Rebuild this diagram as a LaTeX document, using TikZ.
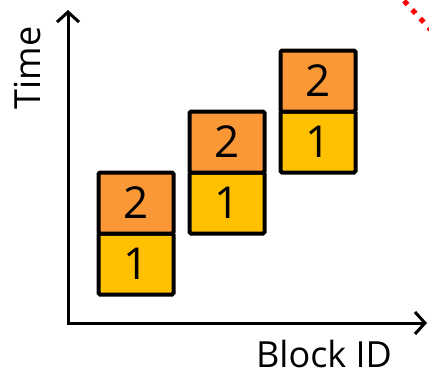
\documentclass[tikz,border=0pt]{standalone}
\usepackage{fontspec}
\setmainfont{Open Sans}
\usetikzlibrary{arrows.meta,positioning}
\definecolor{blkorange}{RGB}{250,152,56}
\definecolor{blkyellow}{RGB}{255,192,0}
\tikzset{
    half/.style={rectangle, draw=black, line width=4pt, rounded corners=1.5pt,
        minimum width=75pt, minimum height=61pt, inner sep=0pt, outer sep=0pt,
        font=\fontsize{44}{44}\selectfont},
    first/.style={half, fill=blkyellow},
    second/.style={half, fill=blkorange},
    axis/.style={line width=3pt, line join=miter,
        {Straight Barb[length=10pt,width=22pt]}-{Straight Barb[length=10pt,width=22pt]}},
    axislabel/.style={font=\fontsize{36}{36}\selectfont},
}
\begin{document}
\begin{tikzpicture}[x=1pt,y=-1pt]
    \useasboundingbox (0,0) rectangle (429,375);
    \begin{scope}
        \clip (0,0) rectangle (429,375);
        % dotted link leaving the frame
        \draw[red, line width=5pt, dash pattern=on 5pt off 7pt] (396,-8) -- (440,40);
    \end{scope}

    % axes
    \coordinate (origin) at (68,323);
    \coordinate (ytip) at (68,10);
    \coordinate (xtip) at (427,323);
    \draw[axis] (ytip) -- (origin) -- (xtip);
    \node[axislabel, rotate=90] (tlabel) at (27,68) {Time};
    \node[axislabel, anchor=base] (blabel) at (324,367) {Block ID};

    % blocks: step 1 below, step 2 on top
    \foreach \x/\y/\name in {136/264/b1, 227/203/b2, 318/142/b3} {
        \node[first] (\name lo) at (\x,\y) {1};
        \node[second, above=0pt of \name lo] (\name hi) {2};
    }
\end{tikzpicture}
\end{document}
